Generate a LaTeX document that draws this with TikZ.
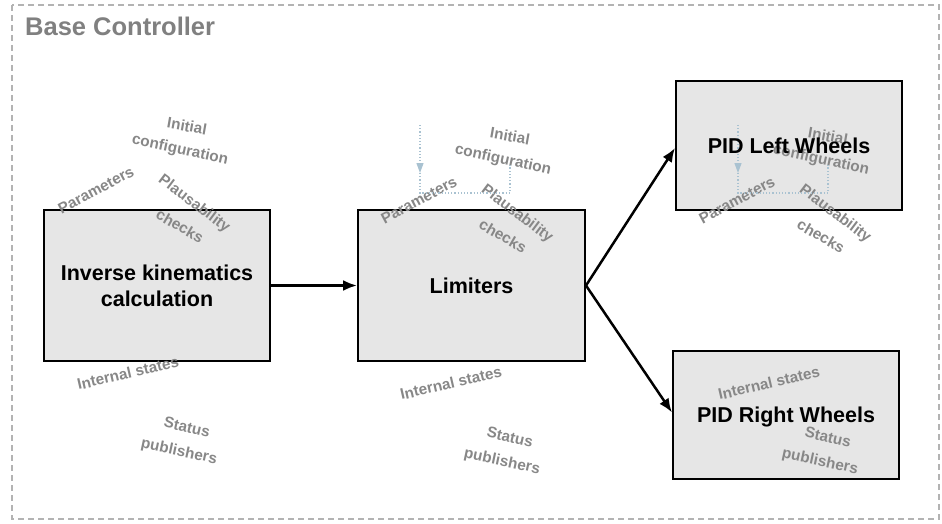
\documentclass[tikz,border=0pt]{standalone}
\usepackage{fontspec}
\setmainfont{Liberation Sans}
\usetikzlibrary{arrows.meta}
\definecolor{framegray}{HTML}{B3B3B3}
\definecolor{titlegray}{HTML}{808080}
\definecolor{notegray}{HTML}{878787}
\definecolor{boxfill}{HTML}{E6E6E6}
\definecolor{linkblue}{HTML}{A9C2D1}

\begin{document}
\begin{tikzpicture}[x=1pt,y=-1pt,
  block/.style={draw=black, line width=2pt, fill=boxfill, inner sep=0pt},
  blocktext/.style={font=\fontsize{21.5}{26}\selectfont\bfseries, align=center, inner sep=0pt},
  note/.style={text=notegray, font=\fontsize{15.3}{18}\selectfont\bfseries, inner sep=0pt},
  flow/.style={line width=2.5pt, -{Latex[length=14pt,width=11pt]}},
  link/.style={linkblue, line width=1.2pt, dotted},
]
\useasboundingbox (0,0) rectangle (942,524);

% outer frame and title
\draw[framegray, line width=2pt, dash pattern=on 6pt off 4pt] (12,5) rectangle (939,519);
\node[anchor=base west, text=titlegray, font=\fontsize{25.5}{30}\selectfont\bfseries, inner sep=0pt]
  (title) at (25,36) {Base Controller};

% processing blocks (frames only, captions drawn last)
\node[block, minimum width=226pt, minimum height=151pt] (ik)   at (157,285.5) {};
\node[block, minimum width=227pt, minimum height=151pt] (lim)  at (471.5,285.5) {};
\node[block, minimum width=226pt, minimum height=129pt] (pidl) at (789,145.5) {};
\node[block, minimum width=226pt, minimum height=128pt] (pidr) at (786,414.5) {};

% data flow
\draw[flow] (ik.east) -- (lim.west);
\draw[flow] (lim.east) -- ([yshift=-2.5pt]pidl.west);
\draw[flow] (lim.east) -- ([yshift=2pt]pidr.west);

% annotation groups around each block
\foreach \dx/\dy/\k in {0/0/a, 323/10/b, 641/10/c} {
  \begin{scope}[shift={(\dx,\dy)}]
    \node[note, rotate=-10] (init-\k)  at (187,126) {Initial};
    \node[note, rotate=-12] (conf-\k)  at (180,150) {configuration};
    \node[note, rotate=28]  (param-\k) at (96,190)  {Parameters};
    \node[note, rotate=-37] (plaus-\k) at (194,204) {Plausability};
    \node[note, rotate=-30] (check-\k) at (180,226) {checks};
    \node[note, rotate=13]  (state-\k) at (128,373) {Internal states};
    \node[note, rotate=-13] (stat-\k)  at (187,427) {Status};
    \node[note, rotate=-12] (pub-\k)   at (179,452) {publishers};
  \end{scope}
}

% parameter feedback brackets
\foreach \dx/\dy/\k in {323/10/b, 641/10/c} {
  \begin{scope}[shift={(\dx,\dy)}]
    \coordinate (src-\k) at (97,115);
    \coordinate (mid-\k) at (97,153);
    \coordinate (tip-\k) at (97,163);
    \coordinate (lo-\k)  at (97,183);
    \coordinate (rc-\k)  at (187,183);
    \coordinate (rt-\k)  at (187,155);
    \draw[link] (src-\k) -- (lo-\k) -- (rc-\k) -- (rt-\k);
    \draw[linkblue, line width=1.2pt, -{Triangle[length=10pt,width=7pt]}] (mid-\k) -- (tip-\k);
  \end{scope}
}

% block captions
\node[blocktext] (ik-text)   at (ik)   {Inverse kinematics\\calculation};
\node[blocktext] (lim-text)  at (lim)  {Limiters};
\node[blocktext] (pidl-text) at (pidl) {PID Left Wheels};
\node[blocktext, text depth=0pt] (pidr-text) at (pidr) {PID Right Wheels};
\end{tikzpicture}
\end{document}
